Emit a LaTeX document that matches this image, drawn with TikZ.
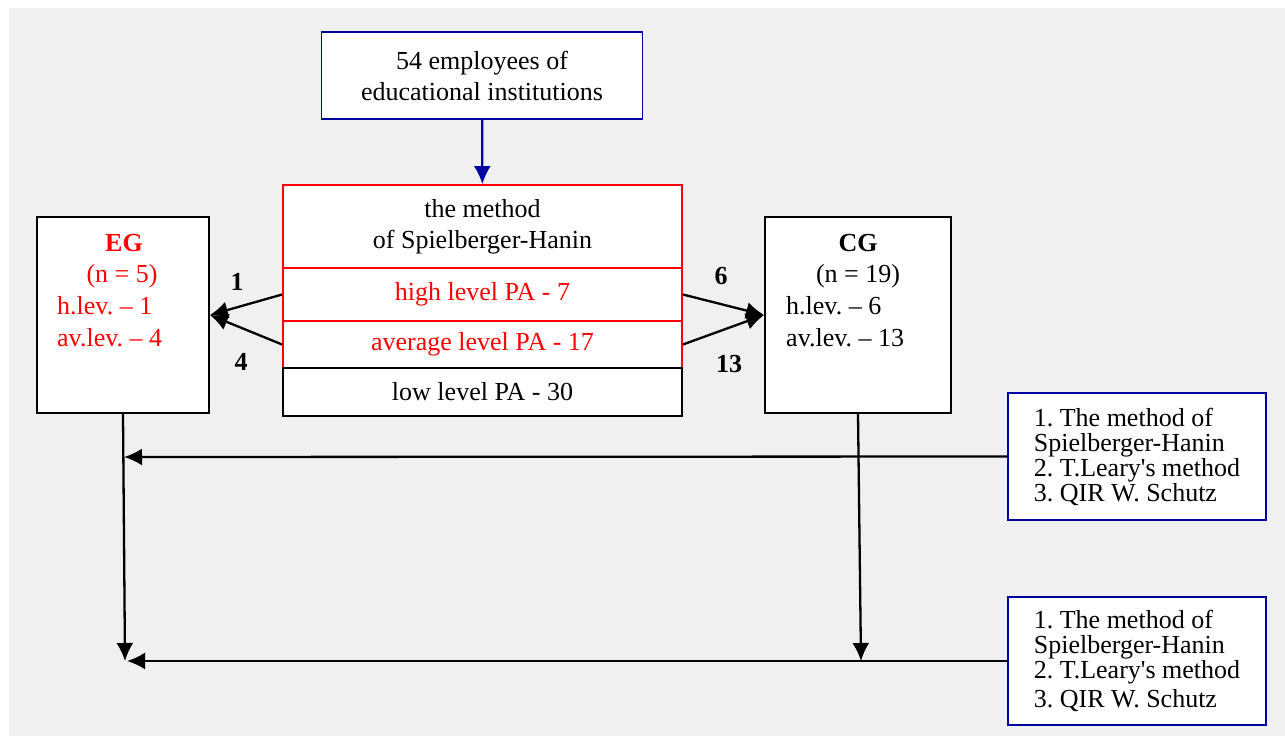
\documentclass[tikz,border=0pt]{standalone}
\usepackage{fontspec}
\setmainfont{Liberation Serif}
\usetikzlibrary{arrows.meta}
\definecolor{bggray}{RGB}{240,240,240}
\definecolor{dblue}{RGB}{0,0,160}
\frenchspacing

\begin{document}
\begin{tikzpicture}[x=1pt,y=-1pt,
  box/.style={draw, line width=1.8pt, fill=white, align=center, inner sep=0pt,
    font=\fontsize{26}{31}\selectfont},
  bluebox/.style={box, draw=dblue},
  redbox/.style={box, draw=red},
  txt/.style={inner sep=0pt, font=\fontsize{26}{31}\selectfont},
  num/.style={inner sep=0pt, font=\fontsize{26}{31}\selectfont\bfseries},
  arr/.style={line width=2.3pt, -{Latex[length=18pt,width=17pt]}}]
\useasboundingbox (0,0) rectangle (1285,736);
\fill[bggray] (9,8) rectangle (1285,736);

\node[bluebox, minimum width=321, minimum height=87] (pop) at (482,75.5) {54 employees of\\educational institutions};

\node[redbox, minimum width=399, minimum height=84] (meth) at (482.5,227) {the method\\of Spielberger-Hanin};
\node[redbox, text=red, minimum width=399, minimum height=53] (high) at (482.5,294.5) {high level PA - 7};
\node[redbox, text=red, minimum width=399, minimum height=47] (avg) at (482.5,344.5) {average level PA - 17};
\node[box, minimum width=399, minimum height=48] (low) at (482.5,392) {low level PA - 30};

\node[box, minimum width=172, minimum height=196] (eg) at (123,315) {};
\node[num, red] (egname) at (124,243) {EG};
\node[txt, red] (egn) at (122,276) {(n = 5)};
\node[txt, red, anchor=west] (eghigh) at (57,306) {h.lev. – 1};
\node[txt, red, anchor=west] (egavg) at (57,338) {av.lev. – 4};

\node[box, minimum width=186, minimum height=196] (cg) at (858,315) {};
\node[num] (cgname) at (858,243) {CG};
\node[txt] (cgn) at (858,276) {(n = 19)};
\node[txt, anchor=west] (cghigh) at (786,306) {h.lev. – 6};
\node[txt, anchor=west] (cgavg) at (786,338) {av.lev. – 13};

\node[bluebox, align=left, minimum width=258, minimum height=127,
  font=\fontsize{26}{25}\selectfont] (m1) at (1137,456.5)
  {1. The method of\\Spielberger-Hanin\\2. T.Leary\textquotesingle s method\\3. QIR W. Schutz};
\node[bluebox, align=left, minimum width=258, minimum height=128,
  font=\fontsize{26}{25}\selectfont] (m2) at (1137,661)
  {1. The method of\\Spielberger-Hanin\\2. T.Leary\textquotesingle s method\\[4pt]3. QIR W. Schutz};

\coordinate (egmid) at (124,457);
\coordinate (egend) at (125,661);
\coordinate (egtip) at (127,661);
\coordinate (cgend) at (861,661);

\draw[arr, dblue] (pop) -- (meth);
\draw[arr] (high.west) -- (eg.east);
\draw[arr] (avg.west) -- (eg.east);
\draw[arr] (high.east) -- (cg.west);
\draw[arr] (avg.east) -- (cg.west);
\node[num] (n1) at (237,282) {1};
\node[num] (n4) at (241,362) {4};
\node[num] (n6) at (721,276) {6};
\node[num] (n13) at (729,364) {13};

\draw[arr] (eg.south) -- (egend);
\draw[arr] (cg.south) -- (cgend);
\draw[arr] (m1.west) -- (egmid);
\draw[arr] (m2.west) -- (egtip);
\end{tikzpicture}
\end{document}
